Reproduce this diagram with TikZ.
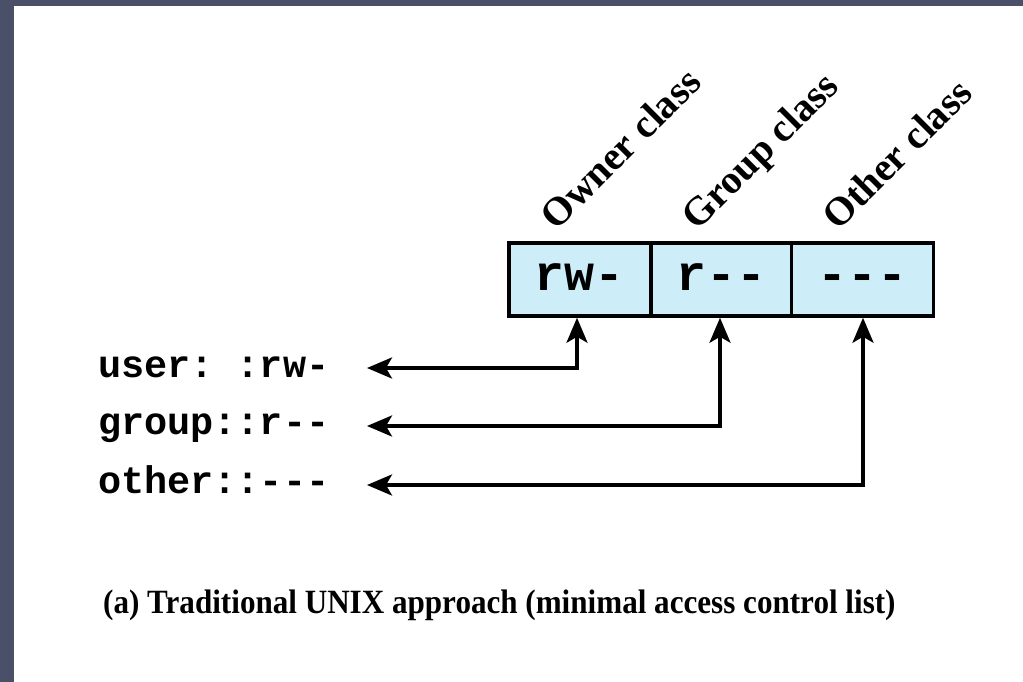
\documentclass[tikz,border=0pt]{standalone}
\usepackage{fontspec}
\setmainfont{Liberation Serif}
\setmonofont{Liberation Mono}
\usetikzlibrary{arrows.meta}
\definecolor{frame}{HTML}{4A5068}
\definecolor{cellfill}{HTML}{CDEEF9}
\tikzset{
  cell/.style={draw=black, line width=3.5pt, fill=cellfill, minimum width=142pt, minimum height=73pt,
    inner sep=0pt, text height=22pt, text depth=0pt, font=\fontsize{50}{50}\selectfont\ttfamily\bfseries},
  acl/.style={anchor=base west, inner sep=0pt, font=\fontsize{38.5}{38.5}\selectfont\ttfamily\bfseries},
  cls/.style={anchor=base west, rotate=45, inner sep=0pt, font=\fontsize{40}{40}\selectfont\bfseries},
  link/.style={line width=3.5pt, {Stealth[length=25pt, width=21pt, inset=6pt]}-{Stealth[length=25pt, width=21pt, inset=6pt]}},
  captext/.style={anchor=base west, inner sep=0pt, xscale=0.915, font=\fontsize{34}{34}\selectfont\bfseries}
}
\begin{document}
\begin{tikzpicture}[x=1pt,y=-1pt]
\useasboundingbox (0,0) rectangle (1023,682);
\fill[frame] (0,0) rectangle (1023,682);
\fill[white] (14,6) rectangle (1023,682);

\node[cell] (c1) at (580,279.5) {rw-};
\node[cell] (c2) at (722,279.5) {r--};
\node[cell] (c3) at (862.5,279.5) {---};

\node[cls] (o1) at (556,232) {Owner class};
\node[cls] (o2) at (697,232) {Group class};
\node[cls] (o3) at (838,232) {Other class};

\node[acl] (a1) at (98,377) {user:\ :rw-};
\node[acl] (a2) at (98,434) {group::r--};
\node[acl] (a3) at (98,493) {other::---};

\coordinate (t1) at (367,368);
\coordinate (t2) at (367,426);
\coordinate (t3) at (367,485);

\draw[link] (c1.south -| 577,0) |- (t1);
\draw[link] (c2.south -| 720,0) |- (t2);
\draw[link] (c3.south -| 863,0) |- (t3);

\node[captext] (cp) at (103,613) {(a) Traditional UNIX approach (minimal access control list)};
\end{tikzpicture}
\end{document}
